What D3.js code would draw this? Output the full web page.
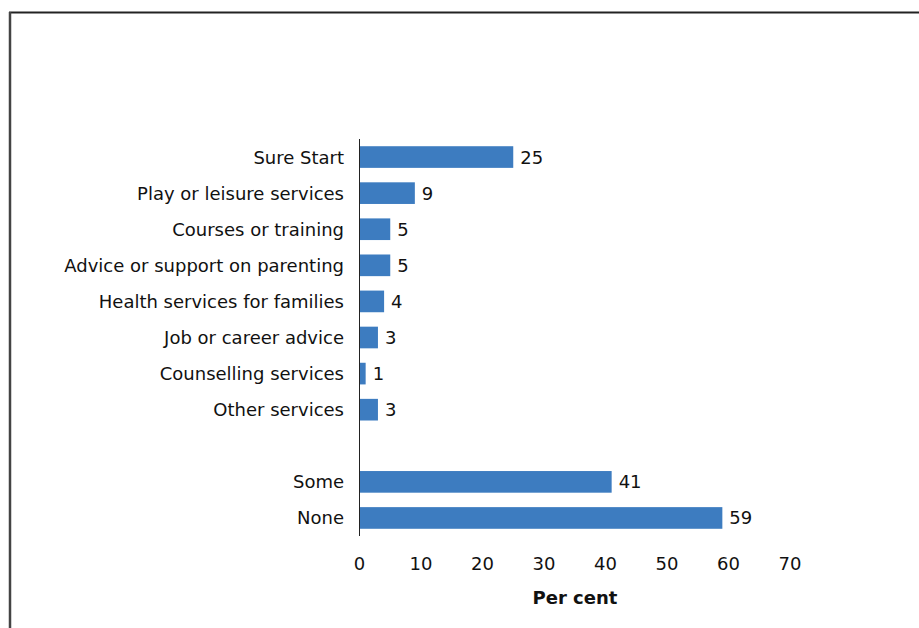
<!DOCTYPE html>
<html><head><meta charset="utf-8">
<script src="https://cdn.jsdelivr.net/npm/d3@7/dist/d3.min.js"></script>
<style>body{margin:0;background:#fff}svg{display:block}text{font-family:"DejaVu Sans",sans-serif}</style>
</head><body>
<script>
const categories = ["Sure Start","Play or leisure services","Courses or training","Advice or support on parenting","Health services for families","Job or career advice","Counselling services","Other services","","Some","None"];
const values = [25,9,5,5,4,3,1,3,null,41,59];
const xTicks = [0,10,20,30,40,50,60,70];
const xTitle = "Per cent";

const W=919,H=628;
const svg=d3.select("body").append("svg").attr("width",W).attr("height",H);
svg.append("rect").attr("x",10).attr("y",12.5).attr("width",W+20).attr("height",H+20)
  .attr("fill","#fff").attr("stroke","#222").attr("stroke-width",2);
svg.append("line").attr("x1",10).attr("x2",10).attr("y1",12).attr("y2",H).attr("stroke","#444").attr("stroke-width",2.5);

const x=d3.scaleLinear().domain([0,70]).range([359.5,790]);
const y=d3.scaleBand().domain(categories.map((c,i)=>i)).range([139,536]).paddingInner(0.4).paddingOuter(0.2);

const fs="18px";
const data=categories.map((c,i)=>({c,i,v:values[i]}));
svg.selectAll("rect.bar").data(data.filter(d=>d.v!=null)).join("rect").attr("class","bar")
  .attr("x",x(0)).attr("y",d=>y(d.i)).attr("width",d=>x(d.v)-x(0)).attr("height",y.bandwidth()).attr("fill","#3d7cc0");
svg.selectAll("text.val").data(data.filter(d=>d.v!=null)).join("text").attr("class","val")
  .attr("x",d=>x(d.v)+7).attr("y",d=>y(d.i)+y.bandwidth()/2).attr("dy","0.36em")
  .attr("font-size",fs).attr("fill","#111").text(d=>d.v);
svg.selectAll("text.cat").data(data).join("text").attr("class","cat")
  .attr("x",344).attr("y",d=>y(d.i)+y.bandwidth()/2).attr("dy","0.36em").attr("text-anchor","end")
  .attr("font-size",fs).attr("fill","#111").text(d=>d.c);
svg.append("line").attr("x1",x(0)).attr("x2",x(0)).attr("y1",139).attr("y2",536).attr("stroke","#222").attr("stroke-width",1);

const ax=svg.append("g").attr("transform","translate(0,564)");
ax.selectAll("text").data(xTicks).join("text").attr("x",d=>x(d)).attr("dy","0.36em").attr("text-anchor","middle")
  .attr("font-size",fs).attr("fill","#111").text(d=>d);
svg.append("text").attr("x",575).attr("y",598).attr("dy","0.36em").attr("text-anchor","middle")
  .attr("font-size","18px").attr("font-weight","bold").attr("fill","#111").text(xTitle);
</script>
</body></html>
